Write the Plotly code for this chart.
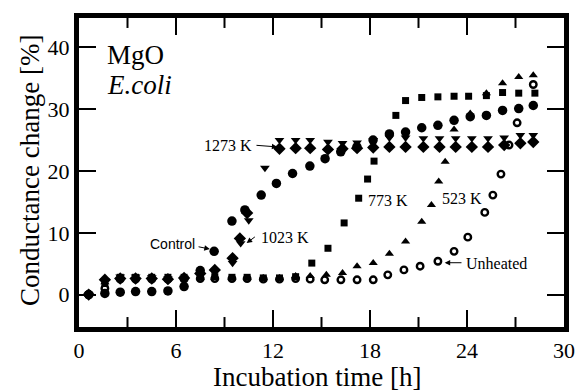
import plotly.graph_objects as go

# ---- data ----
ctrl_t = [0.6, 1.6, 2.55, 3.5, 4.5, 5.5, 6.5, 7.5, 8.36, 9.46, 10.26, 11.27, 12.21, 13.21, 14.28,
          15.22, 16.19, 17.19, 18.19, 19.2, 20.2, 21.2, 22.2, 23.2, 24.2, 25.2, 26.2, 27.2, 28.1]
ctrl_v = [0, 0.2, 0.4, 0.5, 0.5, 0.6, 1.3, 3.9, 7.0, 11.9, 13.7, 16.1, 18.0, 19.6, 20.8,
          22.0, 23.1, 23.9, 25.0, 26.0, 26.3, 27.0, 27.4, 28.2, 28.8, 29.0, 29.8, 30.1, 30.6]

k1273_t = [0.6, 1.6, 2.55, 3.5, 4.5, 5.5, 6.5, 7.5, 8.4, 9.5, 10.0, 10.5, 11.5, 12.4, 13.4, 14.3,
           15.4, 16.3, 17.2, 18.2, 19.2, 20.2, 21.3, 22.3, 23.3, 24.3, 25.3, 26.3, 27.3, 28.1]
k1273_v = [0, 2.3, 2.9, 2.9, 2.8, 2.6, 2.7, 3.3, 3.6, 5.1, 8.3, 12.0, 20.5, 25.0, 25.0, 25.0,
           24.7, 24.5, 24.6, 25.0, 25.4, 25.4, 25.3, 25.3, 25.3, 25.3, 25.3, 25.4, 25.8, 25.8]

k1023_t = [0.6, 1.6, 2.55, 3.5, 4.5, 5.5, 6.5, 7.5, 8.4, 9.5, 9.95, 10.4, 12.4, 13.4, 14.3,
           15.4, 16.3, 17.2, 18.2, 19.2, 20.2, 21.3, 22.3, 23.3, 24.3, 25.3, 26.3, 27.3, 28.1]
k1023_v = [0, 2.4, 2.6, 2.6, 2.6, 2.5, 2.7, 3.4, 4.0, 5.9, 9.1, 13.2, 23.6, 23.7, 23.7,
           23.5, 23.6, 23.7, 23.8, 23.9, 23.9, 23.9, 23.9, 23.9, 23.9, 23.9, 24.2, 24.5, 24.7]

k773_t = [0.6, 1.6, 2.55, 3.5, 4.5, 5.5, 6.5, 7.5, 8.4, 9.46, 10.4, 11.4, 12.4, 13.4, 14.4,
          15.4, 16.4, 17.3, 17.85, 18.25, 19.6, 20.2, 21.2, 22.2, 23.2, 24.1, 25.2, 26.2, 27.2, 28.2]
k773_v = [0, 1.8, 2.8, 2.8, 2.8, 2.8, 2.8, 2.8, 2.9, 2.8, 2.8, 2.7, 2.7, 2.9, 5.1,
          7.5, 11.6, 15.6, 18.7, 21.6, 29.0, 31.4, 31.9, 32.0, 32.1, 32.1, 32.2, 32.7, 32.6, 32.6]

k523_t = [0.6, 1.6, 2.55, 3.5, 4.5, 5.5, 6.5, 7.5, 8.4, 9.46, 10.4, 11.4, 12.4, 13.4, 14.3, 15.3,
          16.3, 17.2, 18.2, 19.2, 20.2, 21.2, 21.8, 22.25, 22.65, 23.2, 24.2, 25.2, 26.2, 27.2, 28.1]
k523_v = [0, 2.0, 2.7, 2.7, 2.7, 2.7, 2.7, 2.7, 2.7, 2.7, 2.7, 2.7, 2.7, 3.0, 3.0, 3.2,
          3.5, 4.6, 5.1, 6.6, 8.6, 11.8, 14.5, 18.3, 21.5, 26.7, 29.3, 32.6, 34.2, 35.2, 35.5]

unh_t = [0.6, 1.6, 2.55, 3.5, 4.5, 5.5, 6.5, 7.5, 8.4, 9.46, 10.4, 11.4, 12.4, 13.4, 14.3, 15.2,
         16.2, 17.2, 18.2, 19.1, 20.1, 21.1, 22.2, 23.2, 24.05, 25.1, 25.6, 26.1, 26.6, 27.1, 28.1]
unh_v = [0, 1.0, 2.5, 2.5, 2.5, 2.5, 2.5, 2.6, 2.6, 2.6, 2.6, 2.5, 2.5, 2.6, 2.5, 2.4,
         2.4, 2.4, 2.4, 3.2, 4.0, 4.6, 5.4, 7.0, 9.3, 13.3, 16.1, 19.5, 24.2, 27.8, 34.0]

x_range = [0, 30]
x_tick_step = 6
x_minor_ticks = [3, 9, 15, 21, 27]
y_tick_step = 10

SERIF = "Liberation Serif"
SANS = "Liberation Sans"

fig = go.Figure()

def add(t, v, symbol, size, open_=False):
    if open_:
        marker = dict(symbol=symbol, size=size, color="black", line=dict(color="black", width=2.4))
    else:
        marker = dict(symbol=symbol, size=size, color="black", line=dict(width=0))
    fig.add_trace(go.Scatter(x=t, y=v, mode="markers", marker=marker, showlegend=False,
                             hoverinfo="skip"))

add(unh_t, unh_v, "circle-open", 6.5, open_=True)
add(k523_t, k523_v, "triangle-up", 8)
add(k773_t, k773_v, "square", 7)
add(k1023_t, k1023_v, "diamond", 9.5)
add(k1273_t, k1273_v, "triangle-down", 8.5)
add(ctrl_t, ctrl_v, "circle", 9.5)

ann = []
def txt(x, y, s, size=16, font=SERIF, xanchor="left", italic=False):
    ann.append(dict(x=x, y=y, xref="x", yref="y", text=s, showarrow=False, xanchor=xanchor,
                    yanchor="middle", font=dict(family=font, size=size, color="black",
                                                style="italic" if italic else "normal")))

def arrow(x, y, ax, ay):
    ann.append(dict(x=x, y=y, xref="x", yref="y", text="", showarrow=True, ax=ax, ay=ay,
                    arrowhead=2, arrowsize=1.1, arrowwidth=1, arrowcolor="black"))

txt(1.6, 38.7, "MgO", size=27)
txt(1.6, 34.0, "E.coli", size=27, italic=True)
txt(10.82, 24.2, "1273 K", xanchor="right")
txt(11.12, 9.3, "1023 K")
txt(17.78, 15.2, "773 K")
txt(22.32, 15.6, "523 K")
txt(23.83, 5.1, "Unheated")
txt(7.28, 8.2, "Control", size=14, font=SANS, xanchor="right")

arrow(8.09, 7.37, -12.7, -2.6)
arrow(10.37, 8.34, 9.7, -7.3)
arrow(12.27, 23.9, -22.4, -1.7)
arrow(22.62, 5.16, 18.3, 0)

# axis titles
ann.append(dict(x=0.49, y=-0.163, xref="paper", yref="paper", text="Incubation time [h]",
                showarrow=False, xanchor="center", yanchor="middle",
                font=dict(family=SERIF, size=27, color="black")))
ann.append(dict(x=-0.101, y=0.505, xref="paper", yref="paper", text="Conductance change [%]",
                showarrow=False, xanchor="center", yanchor="middle", textangle=-90,
                font=dict(family=SERIF, size=27, color="black")))

# short minor tick marks (bottom and top edges), every 3 h between the labelled ticks
plot_h = 391 - 17.5 - 63.5
minor_len = 10 / plot_h
shapes = []
for m in x_minor_ticks:
    shapes.append(dict(type="line", xref="x", yref="paper", x0=m, x1=m, y0=0, y1=minor_len,
                       line=dict(color="black", width=2)))
    shapes.append(dict(type="line", xref="x", yref="paper", x0=m, x1=m, y0=1 - minor_len, y1=1,
                       line=dict(color="black", width=2)))

fig.update_layout(
    width=587, height=391,
    margin=dict(l=79, r=14, t=17.5, b=63.5),
    paper_bgcolor="white", plot_bgcolor="white",
    annotations=ann, shapes=shapes,
    xaxis=dict(range=x_range, tickmode="linear", tick0=0, dtick=x_tick_step,
               ticks="inside", ticklen=17, tickwidth=2,
               tickcolor="black", showline=True, linewidth=5, linecolor="black", mirror="allticks",
               showgrid=False, zeroline=False,
               tickfont=dict(family=SERIF, size=22, color="black")),
    yaxis=dict(range=[-5.24, 44.76], tickmode="linear", tick0=0, dtick=y_tick_step,
               ticks="inside", ticklen=17, tickwidth=2,
               tickcolor="black", showline=True, linewidth=5, linecolor="black", mirror="allticks",
               showgrid=False, zeroline=False,
               tickfont=dict(family=SERIF, size=22, color="black")),
)

fig.write_html("out.html", config={"displayModeBar": False},
               post_script="document.body.style.margin='0';document.body.style.padding='0';")
